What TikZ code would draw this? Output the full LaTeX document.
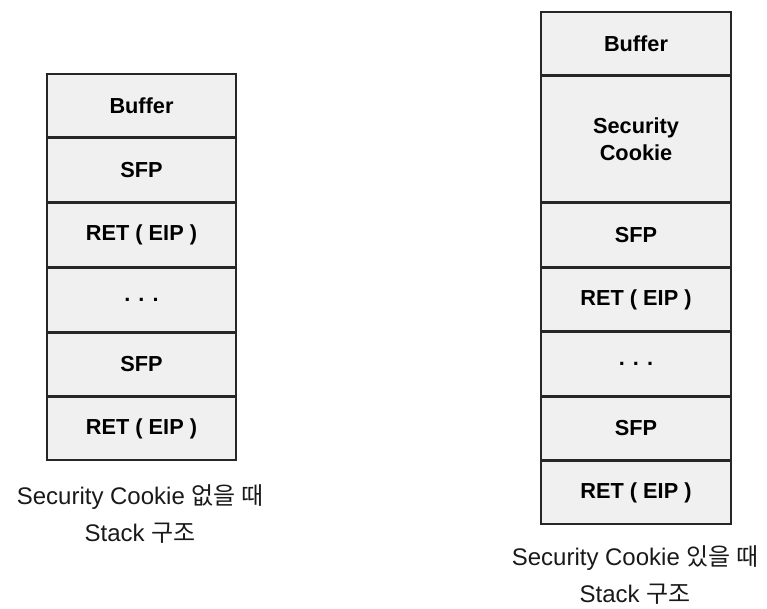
\documentclass[tikz,border=0pt]{standalone}
\usepackage{fontspec}
\setmainfont{Liberation Sans}
\newfontfamily\kr{Noto Sans CJK KR}
\newcommand{\cellbox}[6]{% name, x1, y1, x2, y2, text
  \node[cell,minimum width={(#4-#2)*0.75pt},minimum height={(#5-#3)*0.75pt}] (#1) at ({(#2+#4)/2},{(#3+#5)/2}) {#6};}
\begin{document}
\begin{tikzpicture}[x=0.75pt,y=-0.75pt,
  cell/.style={draw=black!85,line width=1.2pt,fill=black!6,inner sep=0pt,
    font=\fontsize{16.3}{20}\selectfont\bfseries,text=black,align=center},
  captxt/.style={font=\fontsize{18}{27.5}\selectfont,text=black!90,align=center,inner sep=0pt}]
\useasboundingbox (0,0) rectangle (767,608);
% left stack
\cellbox{lbuf}{47}{74}{236}{137}{Buffer}
\cellbox{lsfp}{47}{138}{236}{202}{SFP}
\cellbox{lret}{47}{203}{236}{267}{RET ( EIP )}
\cellbox{ldots}{47}{268}{236}{332}{. . .}
\cellbox{lsfp2}{47}{333}{236}{396}{SFP}
\cellbox{lret2}{47}{397}{236}{460}{RET ( EIP )}
% right stack
\cellbox{rbuf}{541}{12}{731}{75}{Buffer}
\cellbox{rcook}{541}{76}{731}{202}{Security\\Cookie}
\cellbox{rsfp}{541}{203}{731}{267}{SFP}
\cellbox{rret}{541}{268}{731}{331}{RET ( EIP )}
\cellbox{rdots}{541}{332}{731}{396}{. . .}
\cellbox{rsfp2}{541}{397}{731}{460}{SFP}
\cellbox{rret2}{541}{461}{731}{524}{RET ( EIP )}
% captions
\node[captxt] (lcap) at (140,514) {Security Cookie {\kr 없을 때}\\Stack {\kr 구조}};
\node[captxt] (rcap) at (635,575) {Security Cookie {\kr 있을 때}\\Stack {\kr 구조}};
\end{tikzpicture}
\end{document}
